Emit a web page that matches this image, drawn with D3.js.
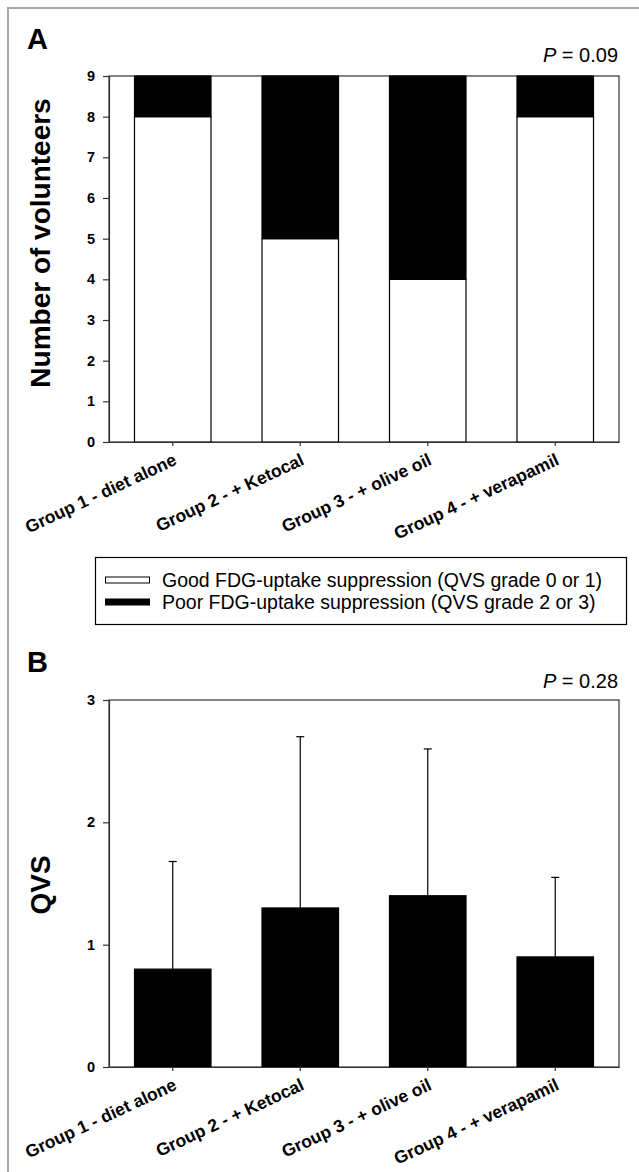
<!DOCTYPE html>
<html>
<head>
<meta charset="utf-8">
<script src="https://cdn.jsdelivr.net/npm/d3@7"></script>
<style>
  body { margin: 0; background: #fff; }
  svg { display: block; font-family: "Liberation Sans", Arial, sans-serif; }
</style>
</head>
<body>
<script>
//chart values
var groups = ["Group 1 - diet alone", "Group 2 - + Ketocal", "Group 3 - + olive oil", "Group 4 - + verapamil"];
var goodCounts = [8, 5, 4, 8];   //QVS grade 0 or 1
var poorCounts = [1, 4, 5, 1];   //QVS grade 2 or 3
var countTicks = [0, 1, 2, 3, 4, 5, 6, 7, 8, 9];
var qvsMean = [0.8, 1.3, 1.4, 0.9];
var qvsUpper = [1.68, 2.7, 2.6, 1.55];
var qvsTicks = [0, 1, 2, 3];
var legendLabels = ["Good FDG-uptake suppression (QVS grade 0 or 1)", "Poor FDG-uptake suppression (QVS grade 2 or 3)"];

window.onload = drawChart();

function drawChart(){
  var width = 639, height = 1172;

  var svg = d3.select("body")
    .append("svg")
    .attr("width", width)
    .attr("height", height);

  //outer frame (cropped on right / bottom)
  svg.append("rect")
    .attr("x", 8).attr("y", 8)
    .attr("width", 700).attr("height", 1300)
    .attr("fill", "none")
    .attr("stroke", "#a8a8a8")
    .attr("stroke-width", 2);

  var x = d3.scaleBand()
    .domain(groups)
    .range([109, 619])
    .paddingInner(0.4)
    .paddingOuter(0.2);

  //---------- panel A ----------
  var yA = d3.scaleLinear().domain([0, 9]).range([442, 76]);
  drawFrame(yA, countTicks, "Number of volunteers", 243, "A", 49, "0.09", 62);

  var gA = svg.append("g");
  //good (white) segments
  gA.selectAll(".good")
    .data(groups)
    .enter()
    .append("rect")
    .attr("class", "good")
    .attr("x", function(d) { return x(d); })
    .attr("width", x.bandwidth())
    .attr("y", function(d, i) { return yA(goodCounts[i]); })
    .attr("height", function(d, i) { return yA(0) - yA(goodCounts[i]); })
    .attr("fill", "#fff")
    .attr("stroke", "#000")
    .attr("stroke-width", 1.2);
  //poor (black) segments stacked on top
  gA.selectAll(".poor")
    .data(groups)
    .enter()
    .append("rect")
    .attr("class", "poor")
    .attr("x", function(d) { return x(d); })
    .attr("width", x.bandwidth())
    .attr("y", function(d, i) { return yA(goodCounts[i] + poorCounts[i]); })
    .attr("height", function(d, i) { return yA(goodCounts[i]) - yA(goodCounts[i] + poorCounts[i]); })
    .attr("fill", "#000")
    .attr("stroke", "#000")
    .attr("stroke-width", 1.2);

  drawXAxis(yA);

  //legend
  var leg = svg.append("g");
  leg.append("rect")
    .attr("x", 95.5).attr("y", 557.5)
    .attr("width", 531).attr("height", 67)
    .attr("fill", "#fff")
    .attr("stroke", "#000")
    .attr("stroke-width", 1.2);
  var legItems = leg.selectAll(".leg")
    .data(legendLabels)
    .enter()
    .append("g")
    .attr("transform", function(d, i) { return "translate(105," + (580 + i * 22) + ")"; });
  legItems.append("rect")
    .attr("x", 0.5).attr("y", -3)
    .attr("width", 44).attr("height", 6)
    .attr("fill", function(d, i) { return i == 0 ? "#fff" : "#000"; })
    .attr("stroke", "#000")
    .attr("stroke-width", 1);
  legItems.append("text")
    .attr("x", 57)
    .attr("y", 7)
    .attr("font-size", 19.5)
    .text(function(d) { return d; });

  //---------- panel B ----------
  var yB = d3.scaleLinear().domain([0, 3]).range([1067, 700]);
  drawFrame(yB, qvsTicks, "QVS", 885, "B", 672, "0.28", 688);

  var gB = svg.append("g");
  //error bars (upper only)
  gB.selectAll(".err")
    .data(groups)
    .enter()
    .append("line")
    .attr("x1", function(d) { return x(d) + x.bandwidth() / 2; })
    .attr("x2", function(d) { return x(d) + x.bandwidth() / 2; })
    .attr("y1", function(d, i) { return yB(qvsMean[i]); })
    .attr("y2", function(d, i) { return yB(qvsUpper[i]); })
    .attr("stroke", "#000")
    .attr("stroke-width", 1.2);
  gB.selectAll(".cap")
    .data(groups)
    .enter()
    .append("line")
    .attr("x1", function(d) { return x(d) + x.bandwidth() / 2 - 4; })
    .attr("x2", function(d) { return x(d) + x.bandwidth() / 2 + 4; })
    .attr("y1", function(d, i) { return yB(qvsUpper[i]); })
    .attr("y2", function(d, i) { return yB(qvsUpper[i]); })
    .attr("stroke", "#000")
    .attr("stroke-width", 1.2);
  gB.selectAll(".bar")
    .data(groups)
    .enter()
    .append("rect")
    .attr("x", function(d) { return x(d); })
    .attr("width", x.bandwidth())
    .attr("y", function(d, i) { return yB(qvsMean[i]); })
    .attr("height", function(d, i) { return yB(0) - yB(qvsMean[i]); })
    .attr("fill", "#000")
    .attr("stroke", "#000")
    .attr("stroke-width", 1.2);

  drawXAxis(yB);

  //plot box, y axis, titles
  function drawFrame(y, ticks, title, titleY, letter, letterY, pval, pY) {
    var r = x.range();
    svg.append("rect")
      .attr("x", r[0]).attr("y", y.range()[1])
      .attr("width", r[1] - r[0])
      .attr("height", y.range()[0] - y.range()[1])
      .attr("fill", "none")
      .attr("stroke", "#333")
      .attr("stroke-width", 1.2);

    var ax = svg.append("g")
      .attr("transform", "translate(" + r[0] + ",0)")
      .call(d3.axisLeft(y).tickValues(ticks).tickFormat(d3.format("d")).tickSize(6).tickSizeOuter(0));
    ax.select(".domain").attr("stroke", "#333").attr("stroke-width", 1.2);
    ax.selectAll(".tick line").attr("stroke", "#333").attr("stroke-width", 1.2);
    ax.selectAll(".tick text")
      .attr("x", -14)
      .attr("fill", "#000")
      .attr("font-size", 14.5)
      .attr("font-weight", "bold")
      .attr("font-family", "Liberation Sans, Arial, sans-serif");

    svg.append("text")
      .attr("transform", "translate(50," + titleY + ") rotate(-90)")
      .attr("text-anchor", "middle")
      .attr("font-size", 28)
      .attr("font-weight", "bold")
      .text(title);

    svg.append("text")
      .attr("x", 27).attr("y", letterY)
      .attr("font-size", 29)
      .attr("font-weight", "bold")
      .text(letter);

    var p = svg.append("text")
      .attr("x", r[1] - 1).attr("y", pY)
      .attr("text-anchor", "end")
      .attr("font-size", 20);
    p.append("tspan").attr("font-style", "italic").text("P");
    p.append("tspan").text(" = " + pval);
  }

  //x axis with rotated labels
  function drawXAxis(y) {
    var ax = svg.append("g")
      .attr("transform", "translate(0," + y(0) + ")")
      .call(d3.axisBottom(x).tickSize(4).tickSizeOuter(0));
    ax.select(".domain").attr("stroke", "#333").attr("stroke-width", 1.2);
    ax.selectAll(".tick line").attr("stroke", "#333").attr("stroke-width", 1.2);
    ax.selectAll(".tick text")
      .attr("fill", "#000")
      .attr("font-size", 17.5)
      .attr("font-weight", "bold")
      .attr("font-family", "Liberation Sans, Arial, sans-serif")
      .attr("text-anchor", "end")
      .attr("dy", null)
      .attr("y", 0)
      .attr("transform", "translate(5,22) rotate(-25)");
  }
}
</script>
</body>
</html>
